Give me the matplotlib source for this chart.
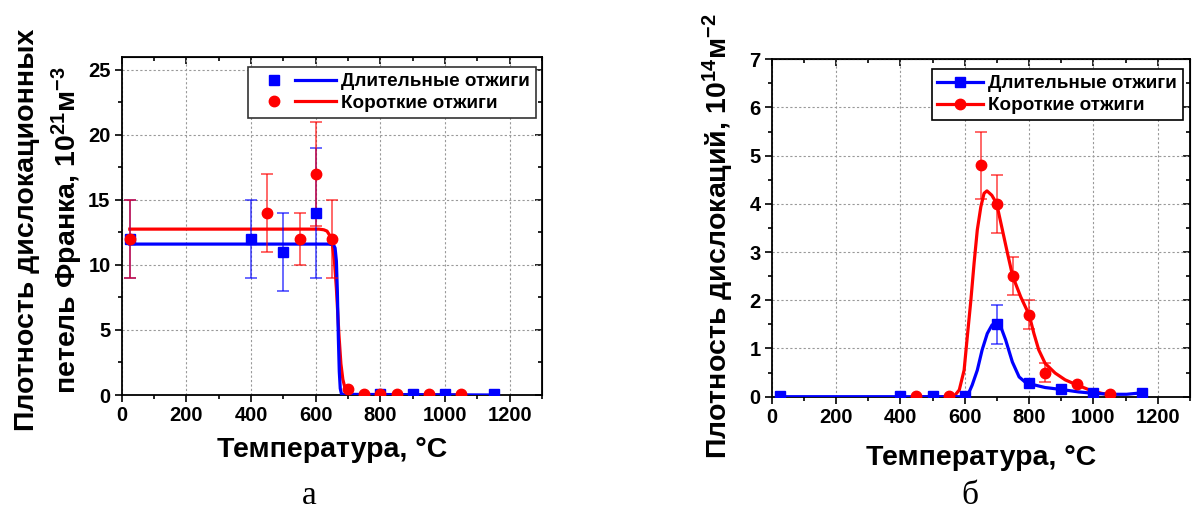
import matplotlib
matplotlib.use('Agg')
import matplotlib.pyplot as plt
from matplotlib.lines import Line2D
from matplotlib.legend_handler import HandlerTuple
from matplotlib.ticker import MultipleLocator

plt.rcParams['font.family'] = ['Liberation Sans', 'DejaVu Sans']
plt.rcParams['font.weight'] = 'bold'
plt.rcParams['mathtext.fontset'] = 'custom'
plt.rcParams['mathtext.rm'] = 'Liberation Sans:bold'
plt.rcParams['mathtext.it'] = 'Liberation Sans:bold:italic'
plt.rcParams['mathtext.bf'] = 'Liberation Sans:bold'

BLUE = '#0000ff'
RED = '#ff0000'

labels = ['Длительные отжиги', 'Короткие отжиги']

# --- panel a: Frank loop density, 10^21 m^-3 ---
a_long_t = [25, 400, 500, 600, 800, 900, 1000, 1150]
a_long_v = [12, 12, 11, 14, 0.05, 0.05, 0.05, 0.05]
a_long_et = [25, 400, 500, 600]
a_long_ev = [12, 12, 11, 14]
a_long_lo = [9, 9, 8, 9]
a_long_hi = [15, 15, 14, 19]

a_short_t = [25, 450, 550, 600, 650, 700, 750, 800, 850, 950, 1050]
a_short_v = [12, 14, 12, 17, 12, 0.5, 0.05, 0.05, 0.05, 0.05, 0.05]
a_short_et = [25, 450, 550, 600, 650]
a_short_ev = [12, 14, 12, 17, 12]
a_short_lo = [9, 11, 10, 13, 9]
a_short_hi = [15, 17, 14, 21, 15]

# fit curves
a_long_fit_t = [25, 640, 655, 660, 664, 667, 670, 673, 676, 680, 1150]
a_long_fit_v = [11.6, 11.6, 11.55, 11.3, 10.3, 8.0, 4.5, 1.8, 0.5, 0.05, 0.0]
a_short_fit_t = [25, 610, 625, 635, 645, 652, 658, 664, 668, 672, 678, 684,
                 690, 698, 708, 720, 1050]
a_short_fit_v = [12.75, 12.75, 12.7, 12.6, 12.2, 11.5, 10.3, 8.2, 6.4, 4.6,
                 2.4, 1.2, 0.6, 0.25, 0.08, 0.02, 0.0]

# --- panel б: dislocation density, 10^14 m^-2 ---
b_long_t = [25, 400, 500, 600, 700, 800, 900, 1000, 1150]
b_long_v = [0.02, 0.02, 0.02, 0.02, 1.5, 0.28, 0.15, 0.07, 0.08]
b_long_et = [700]
b_long_ev = [1.5]
b_long_lo = [1.1]
b_long_hi = [1.9]

b_short_t = [450, 550, 650, 700, 750, 800, 850, 950, 1050]
b_short_v = [0.02, 0.02, 4.8, 4.0, 2.5, 1.7, 0.5, 0.27, 0.05]
b_short_et = [650, 700, 750, 800, 850]
b_short_ev = [4.8, 4.0, 2.5, 1.7, 0.5]
b_short_lo = [4.1, 3.4, 2.1, 1.4, 0.3]
b_short_hi = [5.5, 4.6, 2.9, 2.0, 0.7]

b_long_fit_t = [25, 600, 608, 623, 639, 654, 670, 685, 698, 712, 727, 748,
                769, 790, 800, 850, 900, 953, 1000, 1056, 1103, 1150]
b_long_fit_v = [0.0, 0.0, 0.01, 0.24, 0.55, 0.97, 1.31, 1.49, 1.52, 1.45,
                1.18, 0.72, 0.41, 0.29, 0.27, 0.19, 0.15, 0.1, 0.07, 0.05,
                0.05, 0.08]
b_short_fit_t = [450, 560, 567, 583, 598, 608, 619, 629, 639, 650, 660, 669,
                 684, 699, 717, 733, 749, 774, 800, 815, 830, 850, 881, 912,
                 943, 984, 1025, 1050]
b_short_fit_v = [0.0, 0.0, 0.01, 0.14, 0.55, 1.25, 2.0, 2.77, 3.46, 3.94,
                 4.22, 4.27, 4.18, 4.01, 3.46, 2.97, 2.5, 2.07, 1.7, 1.31,
                 0.97, 0.69, 0.49, 0.35, 0.26, 0.15, 0.07, 0.04]


def errs(v, lo, hi):
    return [[a - b for a, b in zip(v, lo)], [b - a for a, b in zip(v, hi)]]


def style_axes(ax, ymax, ymajor, yminor):
    ax.set_xlim(0, 1300)
    ax.set_ylim(0, ymax)
    ax.xaxis.set_major_locator(MultipleLocator(200))
    ax.xaxis.set_minor_locator(MultipleLocator(100))
    ax.yaxis.set_major_locator(MultipleLocator(ymajor))
    ax.yaxis.set_minor_locator(MultipleLocator(yminor))
    ax.grid(True, which='major', color='#999999', linestyle=(0, (2, 2)), linewidth=0.8)
    ax.set_axisbelow(True)
    for s in ax.spines.values():
        s.set_linewidth(1.3)
    ax.tick_params(which='major', direction='out', length=5, width=1.2,
                   labelsize=14.5, pad=3)
    ax.tick_params(which='minor', direction='out', length=3, width=1.2)
    for lab in ax.get_xticklabels() + ax.get_yticklabels():
        lab.set_fontweight('bold')
    top = ax.secondary_xaxis('top')
    top.xaxis.set_major_locator(MultipleLocator(200))
    top.xaxis.set_minor_locator(MultipleLocator(100))
    top.tick_params(which='major', direction='in', length=5, width=1.2, labeltop=False)
    top.tick_params(which='minor', direction='in', length=3, width=1.2)
    right = ax.secondary_yaxis('right')
    right.yaxis.set_major_locator(MultipleLocator(ymajor))
    right.yaxis.set_minor_locator(MultipleLocator(yminor))
    right.tick_params(which='major', direction='in', length=5, width=1.2, labelright=False)
    right.tick_params(which='minor', direction='in', length=3, width=1.2)


fig = plt.figure(figsize=(11.92, 5.12), dpi=100)
ax1 = fig.add_axes([0.1021, 0.2285, 0.3526, 0.6607])
ax2 = fig.add_axes([0.6474, 0.2252, 0.3509, 0.659])

# panel a
ax1.plot(a_short_fit_t, a_short_fit_v, color=RED, lw=2.3, zorder=3)
ax1.plot(a_long_fit_t, a_long_fit_v, color=BLUE, lw=2.3, zorder=3)
ax1.errorbar(a_long_et, a_long_ev, yerr=errs(a_long_ev, a_long_lo, a_long_hi),
             fmt='none', ecolor=BLUE, elinewidth=1.1, capsize=4, capthick=1.1,
             alpha=0.75, zorder=4)
ax1.errorbar(a_short_et, a_short_ev, yerr=errs(a_short_ev, a_short_lo, a_short_hi),
             fmt='none', ecolor=RED, elinewidth=1.1, capsize=4, capthick=1.1,
             alpha=0.75, zorder=4)
ax1.plot(a_long_t, a_long_v, 's', color=BLUE, ms=6.5, zorder=5)
ax1.plot(a_short_t, a_short_v, 'o', color=RED, ms=7.5, zorder=6)
style_axes(ax1, 26, 5, 2.5)

h_long = (Line2D([], [], marker='s', color=BLUE, ls='none', ms=6.5),
          Line2D([], [], color=BLUE, lw=2.3))
h_short = (Line2D([], [], marker='o', color=RED, ls='none', ms=7.5),
           Line2D([], [], color=RED, lw=2.3))
leg1 = ax1.legend([h_long, h_short], labels,
                  handler_map={tuple: HandlerTuple(ndivide=2, pad=0)},
                  loc='upper right', bbox_to_anchor=(1 - 6.5 / 420.3, 1 - 10.5 / 338.3),
                  borderaxespad=0, fancybox=False, framealpha=1, edgecolor='#333333',
                  handlelength=4.4, handletextpad=0.25, borderpad=0.3,
                  labelspacing=0.25, prop={'size': 13.6, 'weight': 'bold'})
leg1.get_frame().set_linewidth(1.2)

ax1.set_xlabel('Температура, °С', fontsize=20.5, fontweight='bold', va='center')
ax1.xaxis.set_label_coords(0.5, -0.1626)
ax1.set_ylabel('Плотность дислокационных\nпетель Франка, 10$^{21}$м$^{-3}$',
               fontsize=20.5, fontweight='bold', va='center', linespacing=1.35)
ax1.yaxis.set_label_coords(-0.172, 0.488)

# panel б
ax2.errorbar(b_long_et, b_long_ev, yerr=errs(b_long_ev, b_long_lo, b_long_hi),
             fmt='none', ecolor=BLUE, elinewidth=1.1, capsize=4, capthick=1.1,
             alpha=0.75, zorder=2)
ax2.errorbar(b_short_et, b_short_ev, yerr=errs(b_short_ev, b_short_lo, b_short_hi),
             fmt='none', ecolor=RED, elinewidth=1.1, capsize=4, capthick=1.1,
             alpha=0.75, zorder=2)
ax2.plot(b_short_fit_t, b_short_fit_v, color=RED, lw=2.3, zorder=3)
ax2.plot(b_long_fit_t, b_long_fit_v, color=BLUE, lw=2.3, zorder=3)
ax2.plot(b_long_t, b_long_v, 's', color=BLUE, ms=6.5, zorder=5)
ax2.plot(b_short_t, b_short_v, 'o', color=RED, ms=7.5, zorder=6)
style_axes(ax2, 7, 1, 0.5)

h2_long = Line2D([], [], marker='s', color=BLUE, lw=2.3, ms=6.5)
h2_short = Line2D([], [], marker='o', color=RED, lw=2.3, ms=7.5)
leg2 = ax2.legend([h2_long, h2_short], labels,
                  loc='upper right', bbox_to_anchor=(1 - 7.3 / 418.3, 1 - 10 / 337.4),
                  borderaxespad=0, fancybox=False, framealpha=1, edgecolor='black',
                  handlelength=2.4, handletextpad=0.3, borderpad=0.3,
                  labelspacing=0.25, prop={'size': 13.6, 'weight': 'bold'})
leg2.get_frame().set_linewidth(1.2)

ax2.set_xlabel('Температура, °С', fontsize=20.5, fontweight='bold', va='center')
ax2.xaxis.set_label_coords(0.5, -0.1817)
ax2.set_ylabel('Плотность дислокаций, 10$^{14}$м$^{-2}$',
               fontsize=20.5, fontweight='bold', va='center')
ax2.yaxis.set_label_coords(-0.128, 0.475)

# panel letters
fig.text(309.5 / 1192, 1 - 504 / 512, 'а', family='Liberation Serif',
         fontweight='normal', fontsize=24, ha='center', va='baseline')
fig.text(970 / 1192, 1 - 504 / 512, 'б', family='Liberation Serif',
         fontweight='normal', fontsize=24, ha='center', va='baseline')

fig.savefig('out.png', dpi=100)
